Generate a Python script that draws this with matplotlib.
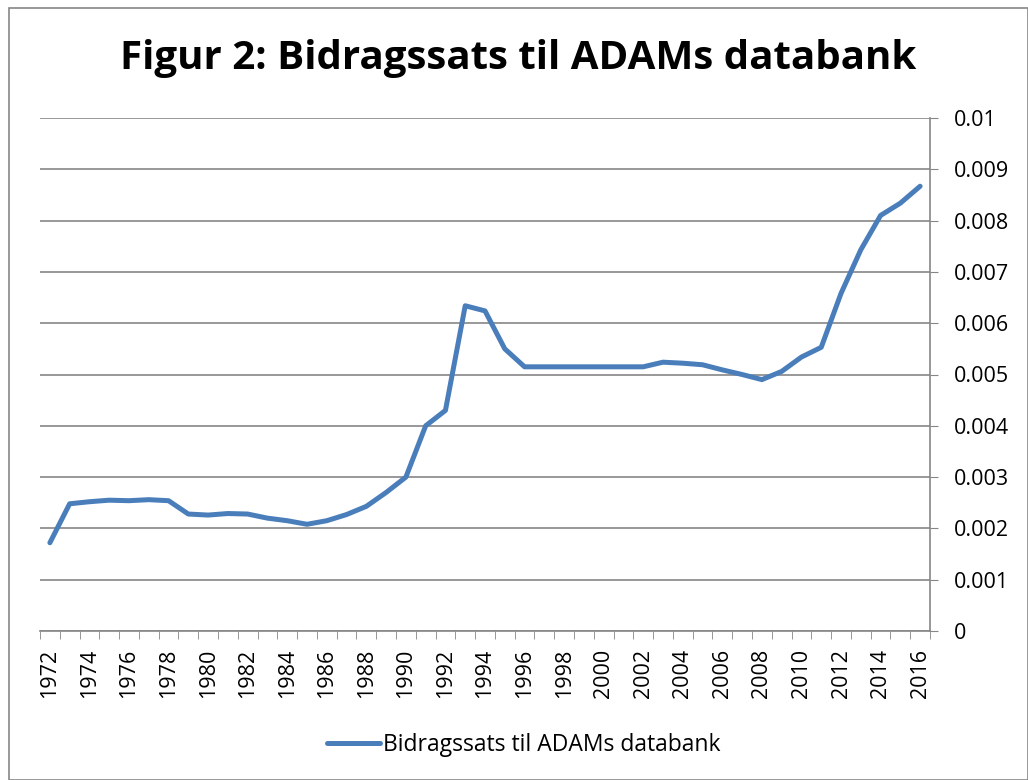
import matplotlib
matplotlib.use("Agg")
import matplotlib.pyplot as plt
from matplotlib.patches import Rectangle

years = list(range(1972, 2017))
values = [0.00172, 0.00248, 0.00252, 0.00255, 0.00254, 0.00256, 0.00254,
          0.00228, 0.00226, 0.00229, 0.00228, 0.00220, 0.00215, 0.00208,
          0.00215, 0.00227, 0.00243, 0.00270, 0.00300, 0.00400, 0.00430,
          0.00634, 0.00624, 0.00550, 0.00515, 0.00515, 0.00515, 0.00515,
          0.00515, 0.00515, 0.00515, 0.00524, 0.00522, 0.00519, 0.00509,
          0.00500, 0.00490, 0.00506, 0.00534, 0.00553, 0.00658, 0.00743,
          0.00810, 0.00834, 0.00867]
series_name = "Bidragssats til ADAMs databank"
title = "Figur 2: Bidragssats til ADAMs databank"
yticks = [0, 0.001, 0.002, 0.003, 0.004, 0.005, 0.006, 0.007, 0.008, 0.009, 0.01]
ytick_labels = ["0", "0.001", "0.002", "0.003", "0.004", "0.005", "0.006",
                "0.007", "0.008", "0.009", "0.01"]

plt.rcParams['font.family'] = ['Open Sans', 'DejaVu Sans']

fig = plt.figure(figsize=(10.28, 7.8), dpi=100)
ax = fig.add_axes([40/1028, 1-631/780, 890/1028, (631-118)/780])

x = list(range(len(years)))
line, = ax.plot(x, values, color="#4A7EBB", linewidth=3.6, solid_capstyle="round",
                solid_joinstyle="round", label=series_name, zorder=3)

ax.set_xlim(-0.5, len(years) - 0.5)
ax.set_ylim(0, 0.01)

ax.yaxis.tick_right()
ax.set_yticks(yticks)
ax.set_yticklabels(ytick_labels, fontsize=15.5)
ax.tick_params(axis='y', direction='out', length=6, color="#868686", pad=11)
ax.grid(axis='y', color="#868686", linewidth=1.2)
ax.set_axisbelow(True)

label_pos = [i for i, y in enumerate(years) if y % 2 == 0]
ax.set_xticks(label_pos)
ax.set_xticklabels([str(years[i]) for i in label_pos], rotation=90, fontsize=15.5)
ax.set_xticks([i - 0.5 for i in range(len(years) + 1)], minor=True)
ax.tick_params(axis='x', which='major', length=0, pad=13)
ax.tick_params(axis='x', which='minor', length=6, color="#868686", direction='out')

for s in ['left', 'top']:
    ax.spines[s].set_visible(False)
ax.spines['right'].set_color("#868686")
ax.spines['bottom'].set_color("#868686")
ax.spines['right'].set_linewidth(1.2)
ax.spines['bottom'].set_linewidth(1.2)

fig.text(518/1028, 1 - 69/780, title, ha='center', va='baseline', fontsize=29,
         fontweight='bold')

fig.legend(handles=[line], loc='center', bbox_to_anchor=(524/1028, 1-745/780),
           frameon=False, fontsize=16.5, handlelength=2.3, handletextpad=0.15)

fig.patches.append(Rectangle((9/1028, 0), 1 - 9/1028, 1 - 8/780, transform=fig.transFigure,
                             fill=False, edgecolor="#868686", linewidth=1.2))

fig.savefig("out.png", dpi=100, facecolor="white")
